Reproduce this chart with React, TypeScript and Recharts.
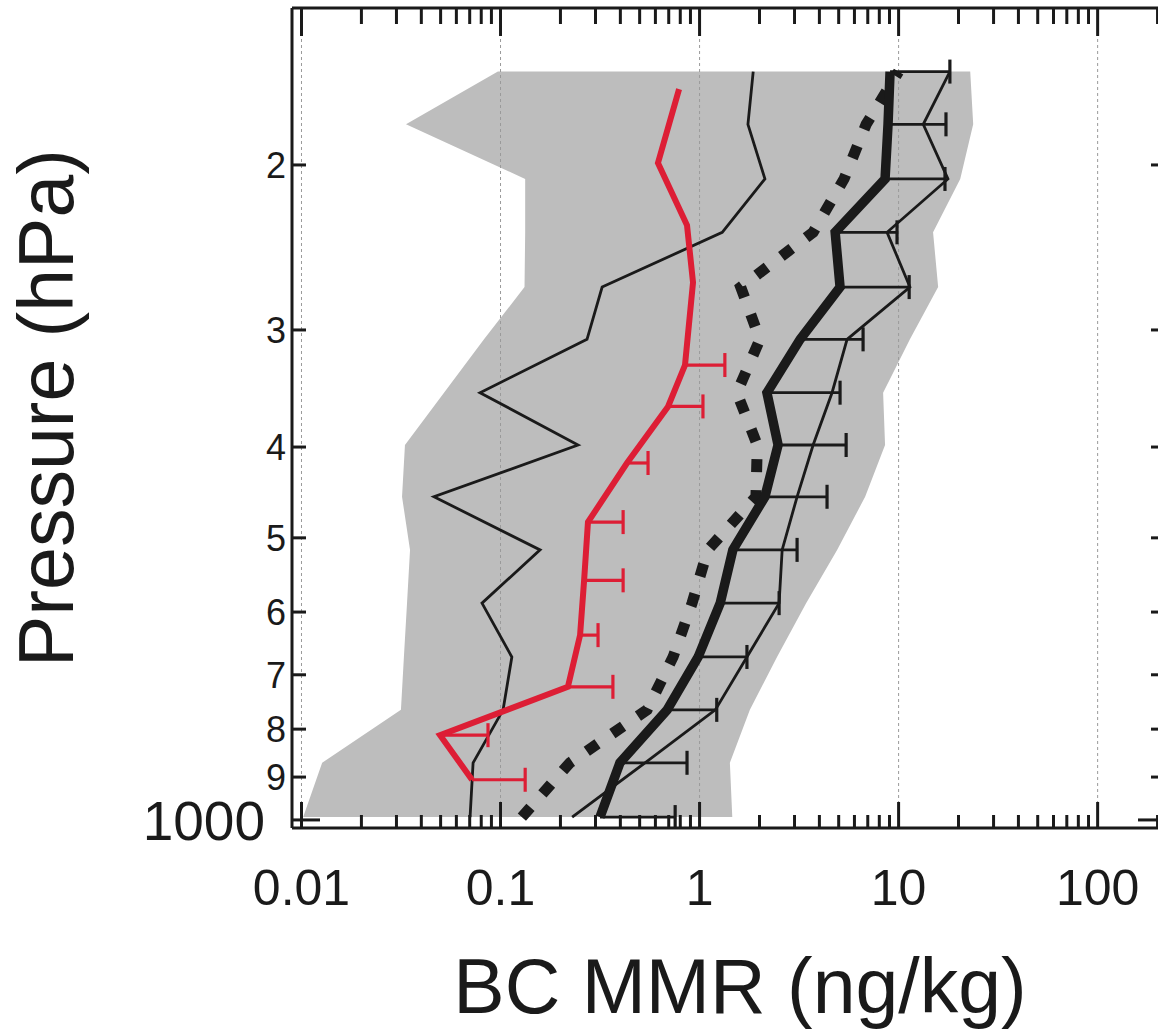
import React from 'react';
import { ComposedChart, Line, Area, XAxis, YAxis, Scatter, ErrorBar, ReferenceLine } from 'recharts';

// pressure levels (hPa), surface -> top
const LEVELS = [993, 869, 763, 670, 587, 515, 452, 398, 350, 307, 270, 236, 207, 181, 159];
// grey envelope
const RANGE_LO = [0.0102, 0.0127, 0.0316, 0.0327, 0.0339, 0.0351, 0.032, 0.0331, 0.052, 0.0826, 0.132, 0.133, 0.133, 0.0335, 0.097];
const RANGE_HI = [1.46, 1.42, 1.79, 2.45, 3.43, 4.91, 6.79, 8.55, 8.36, 11.4, 15.8, 14.9, 20.4, 23.7, 22.9];
// thick black profile + error bar ends
const MEAN = [0.316, 0.398, 0.687, 0.984, 1.27, 1.47, 2.13, 2.48, 2.18, 3.2, 5.08, 4.8, 8.55, 8.85, 9.06];
const MEAN_HI = [0.754, 0.865, 1.22, 1.73, 2.51, 3.09, 4.37, 5.45, 5.08, 6.63, 11.3, 9.82, 17.1, 17.3, 18.1];
// thin black, right
const UPPER = [0.229, 0.532, 1.2, 1.73, 2.51, 2.6, 3.09, 3.72, 4.63, 5.51, 11.4, 8.75, 17.7, 13.3, 18.1];
// dotted black
const DOTTED = [0.128, 0.223, 0.545, 0.736, 0.917, 1.1, 1.92, 1.95, 1.54, 2.01, 1.61, 3.72, 5.32, 6.87, 10.0];
// thin black, left
const THIN = [0.0703, 0.0728, 0.103, 0.114, 0.0807, 0.158, 0.0463, 0.245, 0.0789, 0.272, 0.324, 1.3, 2.13, 1.75, 1.86];

// red profile
const RED_LEVELS = [906, 812, 721, 635, 555, 481, 416, 362, 327, 267, 232, 199, 166];
const RED = [0.0719, 0.0497, 0.218, 0.251, 0.263, 0.275, 0.432, 0.695, 0.845, 0.927, 0.865, 0.618, 0.789];
const RED_HI = [0.133, 0.0865, 0.367, 0.309, 0.413, 0.413, 0.551, 1.04, 1.34, null, null, null, null];

const X_MAJOR = [0.01, 0.1, 1, 10, 100];
const X_LABELS = ['0.01', '0.1', '1', '10', '100'];
const X_MINOR = [
  0.02, 0.03, 0.04, 0.05, 0.06, 0.07, 0.08, 0.09,
  0.2, 0.3, 0.4, 0.5, 0.6, 0.7, 0.8, 0.9,
  2, 3, 4, 5, 6, 7, 8, 9,
  20, 30, 40, 50, 60, 70, 80, 90,
  200,
];
const P_TICKS = [200, 300, 400, 500, 600, 700, 800, 900, 1000];
const P_LABELS = ['2', '3', '4', '5', '6', '7', '8', '9', '1000'];

const X_DOMAIN = [0.00896, 218];
const P_DOMAIN = [136, 1020];

const INK = '#1a1a1a';
const RED_C = '#dd1e35';
const FONT = '"Liberation Sans", Arial, Helvetica, sans-serif';

const band = LEVELS.map((p, i) => ({ p, range: [RANGE_LO[i], RANGE_HI[i]] }));
const meanData = LEVELS.map((p, i) => ({ p, v: MEAN[i], err: [0, MEAN_HI[i] - MEAN[i]] }));
const meanCaps = LEVELS.map((p, i) => ({ p, v: MEAN_HI[i] }));
const upperData = LEVELS.map((p, i) => ({ p, v: UPPER[i] }));
const dottedData = LEVELS.map((p, i) => ({ p, v: DOTTED[i] }));
const thinData = LEVELS.map((p, i) => ({ p, v: THIN[i] }));
const redData = RED_LEVELS.map((p, i) => ({
  p,
  v: RED[i],
  err: RED_HI[i] == null ? null : [0, (RED_HI[i] as number) - RED[i]],
}));
const redCaps = RED_LEVELS.map((p, i) => ({ p, v: RED_HI[i] })).filter((d) => d.v != null);

const BottomTick = (props: any) => {
  const { x, y, payload } = props;
  const i = X_MAJOR.indexOf(payload.value);
  const major = i >= 0;
  return (
    <g>
      <line x1={x} x2={x} y1={y} y2={y - (major ? 26 : 13)} stroke={INK} strokeWidth={3} />
      {major && (
        <text x={x} y={y + 77} textAnchor="middle" fontSize={50} fill={INK} fontFamily={FONT}>
          {X_LABELS[i]}
        </text>
      )}
    </g>
  );
};

const TopTick = (props: any) => {
  const { x, y, payload } = props;
  const major = X_MAJOR.includes(payload.value);
  return <line x1={x} x2={x} y1={y} y2={y + (major ? 28 : 16)} stroke={INK} strokeWidth={3} />;
};

const LeftTick = (props: any) => {
  const { x, y, payload } = props;
  const i = P_TICKS.indexOf(payload.value);
  const big = payload.value === 1000;
  return (
    <g>
      <line x1={x} x2={x + (big ? 28 : 14)} y1={y} y2={y} stroke={INK} strokeWidth={3} />
      <text
        x={big ? x - 27 : x - 6}
        y={y + (big ? 20 : 13)}
        textAnchor="end"
        fontSize={big ? 55 : 36}
        fill={INK}
        fontFamily={FONT}
      >
        {P_LABELS[i]}
      </text>
    </g>
  );
};

const RightTick = (props: any) => {
  const { x, y, payload } = props;
  const big = payload.value === 1000;
  return <line x1={x} x2={x - (big ? 27 : 14)} y1={y} y2={y} stroke={INK} strokeWidth={3} />;
};

const capShape = (color: string) => (props: any) => {
  const { cx, cy } = props;
  return <line x1={cx} x2={cx} y1={cy - 12} y2={cy + 12} stroke={color} strokeWidth={3.2} />;
};

export default function App() {
  return (
    <div style={{ position: 'absolute', left: 0, top: 0, width: 1158, height: 1031, overflow: 'hidden', background: '#fff' }}>
      <ComposedChart
        width={1180}
        height={1031}
        layout="vertical"
        margin={{ top: 7, right: 14, bottom: 202, left: 291 }}
      >
        <XAxis
          xAxisId={0}
          type="number"
          dataKey="v"
          scale="log"
          domain={X_DOMAIN}
          allowDataOverflow
          ticks={[...X_MAJOR, ...X_MINOR]}
          interval={0}
          tickSize={0}
          tickMargin={0}
          height={1}
          tick={BottomTick}
          axisLine={{ stroke: INK, strokeWidth: 3 }}
        />
        <XAxis
          xAxisId="top"
          orientation="top"
          type="number"
          dataKey="v"
          scale="log"
          domain={X_DOMAIN}
          allowDataOverflow
          ticks={[...X_MAJOR, ...X_MINOR]}
          interval={0}
          tickSize={0}
          tickMargin={0}
          height={1}
          tick={TopTick}
          axisLine={{ stroke: INK, strokeWidth: 3 }}
        />
        <YAxis
          yAxisId={0}
          type="number"
          dataKey="p"
          scale="log"
          domain={P_DOMAIN}
          allowDataOverflow
          ticks={P_TICKS}
          interval={0}
          tickSize={0}
          tickMargin={0}
          width={1}
          tick={LeftTick}
          axisLine={{ stroke: INK, strokeWidth: 3 }}
        />
        <YAxis
          yAxisId="right"
          orientation="right"
          type="number"
          dataKey="p"
          scale="log"
          domain={P_DOMAIN}
          allowDataOverflow
          ticks={P_TICKS}
          interval={0}
          tickSize={0}
          tickMargin={0}
          width={1}
          tick={RightTick}
          axisLine={{ stroke: INK, strokeWidth: 3 }}
        />

        <Area
          data={band}
          dataKey="range"
          type="linear"
          stroke="none"
          fill="#bdbdbd"
          fillOpacity={1}
          isAnimationActive={false}
          activeDot={false}
        />

        {X_MAJOR.map((v) => (
          <ReferenceLine key={v} x={v} stroke="#9a9a9a" strokeWidth={1} strokeDasharray="3 3" />
        ))}

        <Line
          data={thinData}
          dataKey="v"
          type="linear"
          stroke={INK}
          strokeWidth={2.8}
          dot={false}
          activeDot={false}
          isAnimationActive={false}
        />
        <Line
          data={redData}
          dataKey="v"
          type="linear"
          stroke={RED_C}
          strokeWidth={6}
          strokeLinejoin="miter"
          dot={false}
          activeDot={false}
          isAnimationActive={false}
        >
          <ErrorBar dataKey="err" direction="x" width={0} stroke={RED_C} strokeWidth={3.2} />
        </Line>
        <Scatter data={redCaps} shape={capShape(RED_C)} isAnimationActive={false} />
        <Line
          data={dottedData}
          dataKey="v"
          type="linear"
          stroke={INK}
          strokeWidth={11}
          strokeDasharray="13 18"
          strokeLinecap="butt"
          dot={false}
          activeDot={false}
          isAnimationActive={false}
        />
        <Line
          data={upperData}
          dataKey="v"
          type="linear"
          stroke={INK}
          strokeWidth={2.8}
          dot={false}
          activeDot={false}
          isAnimationActive={false}
        />
        <Line
          data={meanData}
          dataKey="v"
          type="linear"
          stroke={INK}
          strokeWidth={9.5}
          strokeLinejoin="miter"
          dot={false}
          activeDot={false}
          isAnimationActive={false}
        >
          <ErrorBar dataKey="err" direction="x" width={0} stroke={INK} strokeWidth={2.8} />
        </Line>
        <Scatter data={meanCaps} shape={capShape(INK)} isAnimationActive={false} />

        <text x={740} y={1013} textAnchor="middle" fontSize={77} fill={INK} fontFamily={FONT}>
          BC MMR (ng/kg)
        </text>
        <text
          transform="translate(73,408) rotate(-90)"
          textAnchor="middle"
          fontSize={77}
          fill={INK}
          fontFamily={FONT}
        >
          Pressure (hPa)
        </text>
      </ComposedChart>
    </div>
  );
}
